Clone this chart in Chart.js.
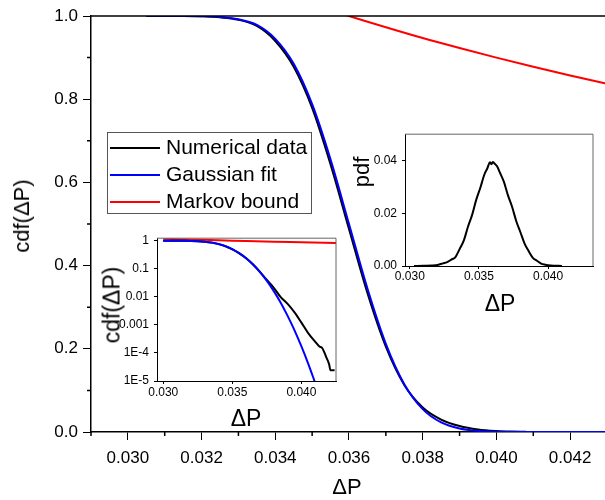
<!DOCTYPE html>
<html lang="en">
<head>
<meta charset="UTF-8">
<title>cdf of dP</title>
<script src="https://cdn.jsdelivr.net/npm/chart.js"></script>
<style>
  body { margin: 0; background: #fff; }
  #wrap { position: relative; width: 605px; height: 500px; overflow: hidden;
          font-family: "Liberation Sans", Arial, sans-serif; color: #000; }
  canvas { position: absolute; }
  .title { position: absolute; white-space: nowrap; line-height: 1;
           transform: translate(-50%, -50%); }
  .rot { transform: translate(-50%, -50%) rotate(-90deg); }
  #legend { position: absolute; left: 107px; top: 132px; width: 205px; height: 82px;
            box-sizing: border-box; border: 1px solid #555; background: #fff; font-size: 21px; }
  #legend .row { position: absolute; left: 2px; height: 27px; line-height: 27px; white-space: nowrap; }
  #legend .row span { display: inline-block; width: 50px; height: 2px; vertical-align: middle; margin-right: 6px; }
</style>
</head>
<body>
<div id="wrap">
  <canvas id="main" width="607" height="500" style="left:0;top:0"></canvas>
  <canvas id="logInset" width="242" height="180" style="left:98px;top:226px"></canvas>
  <canvas id="pdfInset" width="246" height="170" style="left:352px;top:122px"></canvas>

  <div class="title rot" style="left:22px;top:216px;font-size:22px">cdf(ΔP)</div>
  <div class="title" style="left:347px;top:487px;font-size:22px">ΔP</div>
  <div class="title rot" style="left:112px;top:305px;font-size:23px">cdf(ΔP)</div>
  <div class="title" style="left:246px;top:418px;font-size:23px">ΔP</div>
  <div class="title rot" style="left:362px;top:172px;font-size:22px">pdf</div>
  <div class="title" style="left:500px;top:303px;font-size:23px">ΔP</div>

  <div id="legend"></div>
</div>

<script>
// ---- main plot: complementary cdf ----
var fitX = [0.0305, 0.0315, 0.0320, 0.0325, 0.0330, 0.0335, 0.0340, 0.0345, 0.0350, 0.0355, 0.0360,
            0.0365, 0.0370, 0.0375, 0.0380, 0.0385, 0.0390, 0.0395, 0.0400, 0.0405, 0.0410, 0.0420, 0.0430];
var fitY = [1.000, 1.000, 0.9994, 0.9975, 0.992, 0.9785, 0.945, 0.885, 0.788, 0.655, 0.500,
            0.345, 0.212, 0.115, 0.055, 0.023, 0.0085, 0.0027, 0.0007, 0.00016, 0.00003, 0, 0];

var numX = [0.0305, 0.0315, 0.0320, 0.0325, 0.0330, 0.0335, 0.0340, 0.0345, 0.0350, 0.0355, 0.0360,
            0.0365, 0.0370, 0.0375, 0.0380, 0.0385, 0.0390, 0.0395, 0.0400, 0.0404, 0.0408];
var numY = [1.000, 1.000, 0.9993, 0.997, 0.991, 0.976, 0.940, 0.878, 0.779, 0.643, 0.488,
            0.334, 0.205, 0.113, 0.059, 0.030, 0.0145, 0.0062, 0.0024, 0.0010, 0.0004];

var markovX = [0.0303, 0.031, 0.032, 0.033, 0.034, 0.035, 0.036, 0.037, 0.038, 0.039, 0.040, 0.041, 0.042, 0.043];
var markovY = [1.188, 1.161, 1.125, 1.091, 1.059, 1.029, 1.000, 0.973, 0.947, 0.923, 0.900, 0.878, 0.857, 0.837];

var mainXTicks = [0.030, 0.032, 0.034, 0.036, 0.038, 0.040, 0.042];
var mainXTickLabels = ['0.030', '0.032', '0.034', '0.036', '0.038', '0.040', '0.042'];
var mainXMinor = [0.029, 0.031, 0.033, 0.035, 0.037, 0.039, 0.041, 0.043];
var mainYTicks = [0, 0.2, 0.4, 0.6, 0.8, 1.0];
var mainYTickLabels = ['0.0', '0.2', '0.4', '0.6', '0.8', '1.0'];
var mainYMinor = [0.1, 0.3, 0.5, 0.7, 0.9];

// ---- log inset ----
var logFitX = [0.0300, 0.0315, 0.0325, 0.0330, 0.0335, 0.0340, 0.0345, 0.0350, 0.0355, 0.0360, 0.0365,
               0.0370, 0.0375, 0.0380, 0.0385, 0.0390, 0.0395, 0.0400, 0.0405, 0.0410];
var logFitY = [0.9998, 0.994, 0.963, 0.924, 0.858, 0.762, 0.640, 0.500, 0.360, 0.238, 0.142,
               0.076, 0.037, 0.016, 0.0062, 0.0021, 0.00064, 0.00017, 0.00004, 0.0000084];

var logNumX = [0.0300, 0.0315, 0.0325, 0.0330, 0.0335, 0.0340, 0.0345, 0.0350, 0.0355, 0.0360, 0.0365,
               0.0370, 0.0375, 0.0380, 0.0385, 0.0390, 0.0395, 0.0400, 0.0405, 0.0410, 0.0413,
               0.0415, 0.0418, 0.0420, 0.0421, 0.0424];
var logNumY = [0.9998, 0.994, 0.962, 0.922, 0.855, 0.758, 0.635, 0.495, 0.355, 0.236, 0.142,
               0.078, 0.040, 0.021, 0.0098, 0.0056, 0.0028, 0.0012, 0.0005, 0.00025, 0.00017,
               0.00015, 0.00007, 0.00004, 0.000024, 0.000024];

var logMarkovX = [0.0300, 0.0320, 0.0340, 0.0350, 0.0360, 0.0380, 0.0400, 0.0425];
var logMarkovY = [1.17, 1.10, 1.04, 1.00, 0.97, 0.92, 0.88, 0.83];

var logXTicks = [0.030, 0.035, 0.040];
var logXTickLabels = ['0.030', '0.035', '0.040'];
var logYTicks = [1e-5, 1e-4, 1e-3, 1e-2, 1e-1, 1];
var logYTickLabels = ['1E-5', '1E-4', '0.001', '0.01', '0.1', '1'];

// ---- pdf inset ----
var pdfX = [0.0303, 0.0310, 0.0316, 0.0320, 0.0324, 0.0327, 0.0330, 0.0333, 0.0336, 0.0339, 0.0342,
            0.0345, 0.0348, 0.0351, 0.0354, 0.0356, 0.0358, 0.0359, 0.0360, 0.0361, 0.0363, 0.0365,
            0.0368, 0.0371, 0.0374, 0.0377, 0.0380, 0.0383, 0.0386, 0.0389, 0.0392, 0.0395, 0.0398,
            0.0402, 0.0410];
var pdfY = [0.0000, 0.0001, 0.0002, 0.0004, 0.0010, 0.0015, 0.0024, 0.0034, 0.0064, 0.0096, 0.0148,
            0.0193, 0.0251, 0.0297, 0.0348, 0.0370, 0.0394, 0.0386, 0.0395, 0.0390, 0.0379, 0.0356,
            0.0320, 0.0268, 0.0224, 0.0170, 0.0128, 0.0085, 0.0056, 0.0031, 0.0020, 0.0009, 0.0005,
            0.0002, 0.0000];

var pdfXTicks = [0.030, 0.035, 0.040];
var pdfXTickLabels = ['0.030', '0.035', '0.040'];
var pdfYTicks = [0, 0.02, 0.04];
var pdfYTickLabels = ['0.00', '0.02', '0.04'];

var legendItems = [['Numerical data', '#000000'], ['Gaussian fit', '#0000ff'], ['Markov bound', '#ff0000']];

Chart.defaults.font.family = '"Liberation Sans", Arial, sans-serif';
Chart.defaults.color = '#000';

function pts(xs, ys) {
  return xs.map(function (x, i) { return { x: x, y: ys[i] }; });
}

function line(xs, ys, color) {
  return { data: pts(xs, ys), borderColor: color, borderWidth: 2, pointRadius: 0,
           cubicInterpolationMode: 'monotone', fill: false };
}

// minor ticks and the top/right frame lines
var frame = {
  id: 'frame',
  afterDraw: function (chart, args, o) {
    var ctx = chart.ctx, a = chart.chartArea;
    ctx.save();
    ctx.strokeStyle = o.tickColor || '#000';
    ctx.lineWidth = o.tickWidth || 1;
    ctx.beginPath();
    (o.xMinor || []).forEach(function (v) {
      var px = chart.scales.x.getPixelForValue(v);
      ctx.moveTo(px, a.bottom); ctx.lineTo(px, a.bottom + o.minorLen);
    });
    (o.yMinor || []).forEach(function (v) {
      var py = chart.scales.y.getPixelForValue(v);
      ctx.moveTo(a.left, py); ctx.lineTo(a.left - o.minorLen, py);
    });
    ctx.stroke();
    ctx.strokeStyle = o.boxColor;
    ctx.lineWidth = o.boxWidth;
    ctx.beginPath();
    ctx.moveTo(a.left, a.top); ctx.lineTo(a.right, a.top);
    if (o.right) ctx.lineTo(a.right, a.bottom);
    ctx.stroke();
    ctx.restore();
  }
};

function axis(min, max, ticks, labels, size, pad, tickLen, fit, type) {
  return {
    type: type || 'linear', min: min, max: max,
    afterBuildTicks: function (s) { s.ticks = ticks.map(function (v) { return { value: v }; }); },
    afterFit: fit,
    ticks: { callback: function (v, i) { return labels[i]; }, font: { size: size }, padding: pad,
             autoSkip: false, maxRotation: 0, color: '#000' },
    grid: { drawOnChartArea: false, drawTicks: true, tickLength: tickLen, tickColor: '#000', tickWidth: 1 },
    border: { display: true, color: '#000', width: tickLen > 5 ? 1.5 : 1 }
  };
}

new Chart(document.getElementById('main'), {
  type: 'line',
  data: { datasets: [line(fitX, fitY, '#0000ff'), line(numX, numY, '#000000'), line(markovX, markovY, '#ff0000')] },
  options: {
    responsive: false, animation: false, devicePixelRatio: 1,
    layout: { padding: { top: 16, right: 0, left: 0, bottom: 0 } },
    plugins: { legend: { display: false }, tooltip: { enabled: false },
      frame: { xMinor: mainXMinor, yMinor: mainYMinor, minorLen: 4, tickWidth: 1.5,
               boxColor: '#000', boxWidth: 1.5, right: false } },
    scales: {
      x: axis(0.029, 0.043, mainXTicks, mainXTickLabels, 17, 8, 8, function (s) { s.height = 68; }),
      y: axis(0, 1, mainYTicks, mainYTickLabels, 17, 5, 8, function (s) { s.width = 91; })
    }
  },
  plugins: [frame]
});

new Chart(document.getElementById('logInset'), {
  type: 'line',
  data: { datasets: [line(logFitX, logFitY, '#0000ff'), line(logNumX, logNumY, '#000000'),
                     line(logMarkovX, logMarkovY, '#ff0000')] },
  options: {
    responsive: false, animation: false, devicePixelRatio: 1,
    layout: { padding: { top: 11, right: 4, left: 0, bottom: 0 } },
    plugins: { legend: { display: false }, tooltip: { enabled: false },
      frame: { minorLen: 0, boxColor: '#666', boxWidth: 1, right: true } },
    scales: {
      x: axis(0.02955, 0.0425, logXTicks, logXTickLabels, 12, 1, 3, function (s) { s.height = 25; }),
      y: axis(1e-5, 1.23, logYTicks, logYTickLabels, 12, 5, 3, function (s) { s.width = 59; }, 'logarithmic')
    }
  },
  plugins: [frame]
});

new Chart(document.getElementById('pdfInset'), {
  type: 'line',
  data: { datasets: [line(pdfX, pdfY, '#000000')] },
  options: {
    responsive: false, animation: false, devicePixelRatio: 1,
    layout: { padding: { top: 10, right: 5, left: 0, bottom: 0 } },
    plugins: { legend: { display: false }, tooltip: { enabled: false },
      frame: { minorLen: 0, boxColor: '#666', boxWidth: 1, right: true } },
    scales: {
      x: axis(0.02965, 0.04325, pdfXTicks, pdfXTickLabels, 12, 0, 3, function (s) { s.height = 26; }),
      y: axis(0, 0.05, pdfYTicks, pdfYTickLabels, 12, 5, 3, function (s) { s.width = 53; })
    }
  },
  plugins: [frame]
});

// legend box
var leg = document.getElementById('legend');
legendItems.forEach(function (item, i) {
  var row = document.createElement('div');
  row.className = 'row';
  row.style.top = (i * 27) + 'px';
  row.innerHTML = '<span style="background:' + item[1] + '"></span>' + item[0];
  leg.appendChild(row);
});
</script>
</body>
</html>
